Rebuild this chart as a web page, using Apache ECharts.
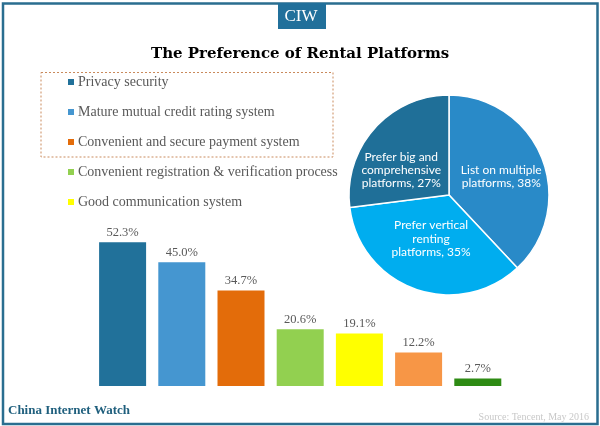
<!DOCTYPE html>
<html>
<head>
<meta charset="utf-8">
<style>html,body{margin:0;padding:0;background:#fff}#chart{width:600px;height:426px}</style>
<script src="https://cdn.jsdelivr.net/npm/echarts@6/dist/echarts.min.js"></script>
</head>
<body>
<div id="chart"></div>
<script>
var barNames = ['Privacy security', 'Mature mutual credit rating system', 'Convenient and secure payment system',
	'Convenient registration & verification process', 'Good communication system', 'Other 1', 'Other 2'];
var barValues = [52.3, 45.0, 34.7, 20.6, 19.1, 12.2, 2.7];
var barColors = ['#21719a', '#4596d0', '#e36c0a', '#92d050', '#ffff00', '#f79646', '#2e8b14'];
var legendNames = barNames.slice(0, 5);

var pieNames = ['List on multiple\nplatforms, 38%', 'Prefer vertical\nrenting\nplatforms, 35%', 'Prefer big and\ncomprehensive\nplatforms, 27%'];
var pieValues = [38, 35, 27];
var pieColors = ['#298ac8', '#00adef', '#1f6f98'];
var pieLabelOffsets = [[3, 1], [0, -6], [-8, 10]];

var serif = '"Liberation Serif", serif';
var grey = '#595959';
var frame = '#2a6e90';

var series = [];
barNames.forEach(function(name, i){
	var d = barNames.map(function(){ return null; });
	d[i] = barValues[i];
	series.push({
		name: name,
		type: 'bar',
		stack: 'all',
		barWidth: 47,
		data: d,
		itemStyle: {color: barColors[i]},
		label: {
			show: true,
			position: 'top',
			distance: 3,
			color: grey,
			fontFamily: serif,
			fontSize: 12.5,
			formatter: function(p){ return p.value.toFixed(1) + '%'; }
		}
	});
});

series.push({
	type: 'pie',
	center: [449, 195],
	radius: [0, 100],
	startAngle: 90,
	clockwise: true,
	silent: true,
	avoidLabelOverlap: false,
	labelLayout: {hideOverlap: false},
	itemStyle: {borderColor: '#fff', borderWidth: 1.5},
	label: {
		show: true,
		position: 'inside',
		color: '#fff',
		fontFamily: 'Lato, sans-serif',
		fontSize: 12,
		lineHeight: 13.3,
		formatter: '{b}'
	},
	labelLine: {show: false},
	data: pieNames.map(function(n, i){
		return {
			name: n,
			value: pieValues[i],
			itemStyle: {color: pieColors[i]},
			label: {offset: pieLabelOffsets[i]}
		};
	})
});

var chart = echarts.init(document.getElementById('chart'), null, {renderer: 'canvas'});
chart.setOption({
	animation: false,
	backgroundColor: '#fff',
	title: {
		text: 'The Preference of Rental Platforms',
		left: 151,
		top: 47,
		padding: 0,
		textStyle: {fontFamily: '"DejaVu Serif", serif', fontWeight: 'bold', fontSize: 15, color: '#000'}
	},
	legend: {
		data: legendNames,
		orient: 'vertical',
		left: 68,
		top: 74.5,
		padding: 0,
		itemWidth: 6,
		itemHeight: 6,
		itemGap: 15,
		icon: 'rect',
		selectedMode: false,
		textStyle: {fontFamily: serif, fontSize: 14, color: grey, padding: [0, 0, 0, -1], lineHeight: 15}
	},
	grid: {left: 93, top: 221, width: 414.4, height: 165},
	xAxis: {type: 'category', data: barNames, show: false},
	yAxis: {type: 'value', min: 0, max: 60, show: false},
	series: series,
	graphic: [
		{type: 'rect', z: 100, shape: {x: 3, y: 3.5, width: 594.5, height: 420.5}, style: {fill: 'none', stroke: frame, lineWidth: 2.5}},
		{type: 'rect', z: 101, shape: {x: 278, y: 3, width: 48, height: 26}, style: {fill: '#21709b'}},
		{type: 'text', z: 102, x: 301, y: 17, style: {text: 'CIW', fill: '#fff', font: '17px ' + serif, textAlign: 'center', textVerticalAlign: 'middle'}},
		{type: 'rect', z: 100, shape: {x: 41, y: 72.5, width: 292, height: 84.5}, style: {fill: 'none', stroke: '#c98a5c', lineWidth: 1, lineDash: [2, 2]}},
		{type: 'text', z: 102, x: 8, y: 411, style: {text: 'China Internet Watch', fill: '#1f5f7d', font: 'bold 13px ' + serif, textVerticalAlign: 'middle'}},
		{type: 'text', z: 102, x: 589, y: 417, style: {text: 'Source: Tencent, May 2016', fill: '#c8c8c8', font: '10px ' + serif, textAlign: 'right', textVerticalAlign: 'middle'}}
	]
});
</script>
</body>
</html>
